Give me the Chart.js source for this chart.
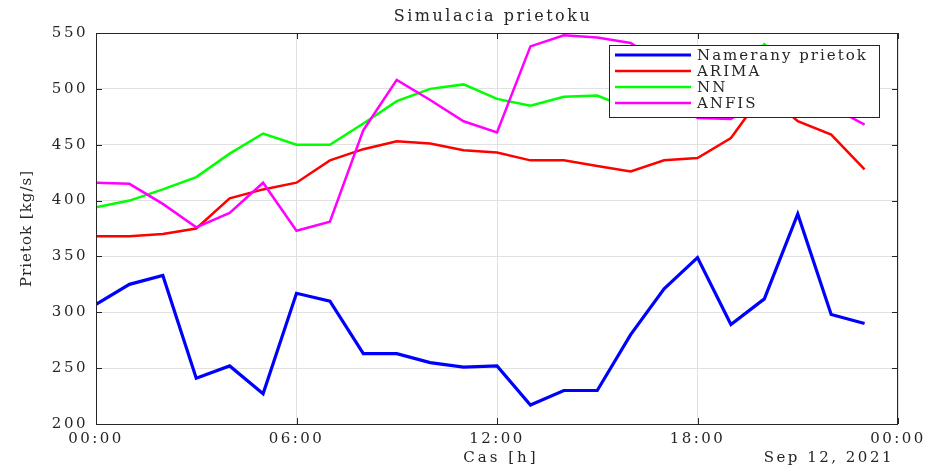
<!DOCTYPE html>
<html>
<head>
<meta charset="utf-8">
<script src="https://cdn.jsdelivr.net/npm/chart.js@4.4.1/dist/chart.umd.min.js"></script>
<style>
  html, body { margin: 0; padding: 0; background: #fff; }
  #wrap { width: 928px; height: 468px; }
</style>
</head>
<body>
<div id="wrap"><canvas id="chartPrietok" width="928" height="468"></canvas></div>
<script>
// Hodiny dna (0..23) a simulovane prietoky [kg/s]
const hours = [0, 1, 2, 3, 4, 5, 6, 7, 8, 9, 10, 11, 12, 13, 14, 15, 16, 17, 18, 19, 20, 21, 22, 23];
const nameranyPrietok = [307, 325, 333, 241, 252, 227, 317, 310, 263, 263, 255, 251, 252, 217, 230, 230, 280, 321, 349, 289, 312, 388, 298, 290];
const arima = [368, 368, 370, 375, 402, 410, 416, 436, 446, 453, 451, 445, 443, 436, 436, 431, 426, 436, 438, 456, 497, 471, 459, 428];
const nn = [394, 400, 410, 421, 442, 460, 450, 450, 469, 489, 500, 504, 491, 485, 493, 494, 482, 488, 497, 508, 540, 512, 502, 492];
const anfis = [416, 415, 397, 376, 389, 416, 373, 381, 463, 508, 490, 471, 461, 538, 548, 546, 541, 522, 474, 473, 492, 500, 484, 468];

const seriesNames = ['Namerany prietok', 'ARIMA', 'NN', 'ANFIS'];
const seriesColors = ['#0000ff', '#ff0000', '#00ff00', '#ff00ff'];
const xTicks = [0, 6, 12, 18, 24];
const yTicks = [200, 250, 300, 350, 400, 450, 500, 550];

const SERIF = "'DejaVu Serif', 'Liberation Serif', serif";
Chart.defaults.font.family = SERIF;
Chart.defaults.color = '#262626';

function toPoints(values) {
  return hours.map((h, i) => ({ x: h, y: values[i] }));
}

const allSeries = [nameranyPrietok, arima, nn, anfis];
const datasets = allSeries.map((values, i) => ({
  label: seriesNames[i],
  data: toPoints(values),
  borderColor: seriesColors[i],
  backgroundColor: seriesColors[i],
  borderWidth: i === 0 ? 3.2 : 2.5,
  pointRadius: 0,
  tension: 0,
  order: 4 - i
}));

// wide lettering for the tick labels
const spacedText = {
  id: 'spacedText',
  beforeDraw(chart) { chart.ctx.letterSpacing = '2.5px'; },
  afterDraw(chart) { chart.ctx.letterSpacing = '0px'; }
};

// box round the plot, inward ticks, title, axis labels and legend
const matlabFrame = {
  id: 'matlabFrame',
  afterDatasetsDraw(chart) {
    const { ctx, chartArea: a, scales } = chart;
    ctx.save();
    ctx.letterSpacing = '0px';
    ctx.strokeStyle = '#262626';
    ctx.lineWidth = 1;
    ctx.strokeRect(a.left + 0.5, a.top + 0.5, a.right - a.left - 1, a.bottom - a.top);

    const tl = 6;
    ctx.beginPath();
    xTicks.forEach(v => {
      const px = Math.round(scales.x.getPixelForValue(v)) + 0.5;
      ctx.moveTo(px, a.bottom); ctx.lineTo(px, a.bottom - tl);
      ctx.moveTo(px, a.top); ctx.lineTo(px, a.top + tl);
    });
    yTicks.forEach(v => {
      const py = Math.round(scales.y.getPixelForValue(v)) + 0.5;
      ctx.moveTo(a.left, py); ctx.lineTo(a.left + tl, py);
      ctx.moveTo(a.right, py); ctx.lineTo(a.right - tl, py);
    });
    ctx.stroke();

    // legend box in the upper right corner
    const lw = 270, lh = 72;
    const lx = a.right - 19 - lw, ly = a.top + 12;
    ctx.fillStyle = '#fff';
    ctx.fillRect(lx, ly, lw, lh);
    ctx.strokeRect(lx + 0.5, ly + 0.5, lw, lh);
    ctx.font = '15px ' + SERIF;
    ctx.letterSpacing = '2px';
    ctx.textBaseline = 'middle';
    ctx.textAlign = 'left';
    seriesNames.forEach((name, i) => {
      const ry = ly + 10 + i * 16;
      ctx.strokeStyle = seriesColors[i];
      ctx.lineWidth = i === 0 ? 3.2 : 2.5;
      ctx.beginPath();
      ctx.moveTo(lx + 6, ry); ctx.lineTo(lx + 82, ry);
      ctx.stroke();
      ctx.fillStyle = '#262626';
      ctx.fillText(name, lx + 88, ry + 1);
    });

    // texts
    ctx.fillStyle = '#262626';
    ctx.textAlign = 'center';
    ctx.font = '16px ' + SERIF;
    ctx.letterSpacing = '2.5px';
    ctx.fillText('Simulacia prietoku', (a.left + a.right) / 2 - 4, 17);
    ctx.font = '15px ' + SERIF;
    ctx.letterSpacing = '3px';
    ctx.fillText('Cas [h]', (a.left + a.right) / 2 + 4, 458);
    ctx.textAlign = 'right';
    ctx.letterSpacing = '2.5px';
    ctx.fillText('Sep 12, 2021', a.right - 4, 458);
    ctx.translate(27, (a.top + a.bottom) / 2);
    ctx.rotate(-Math.PI / 2);
    ctx.textAlign = 'center';
    ctx.letterSpacing = '1px';
    ctx.fillText('Prietok [kg/s]', 0, 0);
    ctx.restore();
  }
};

new Chart(document.getElementById('chartPrietok'), {
  type: 'line',
  data: { datasets },
  options: {
    responsive: false,
    animation: false,
    layout: { padding: { top: 33, right: 30, left: 0, bottom: 0 } },
    plugins: {
      legend: { display: false },
      tooltip: { enabled: false },
      title: { display: false }
    },
    scales: {
      x: {
        type: 'linear',
        min: 0,
        max: 24,
        afterBuildTicks: scale => { scale.ticks = xTicks.map(v => ({ value: v })); },
        afterFit: scale => { scale.height = 44; },
        grid: { color: '#e1e1e1', drawTicks: false },
        border: { display: false },
        ticks: {
          padding: 6,
          font: { size: 15 },
          color: '#262626',
          maxRotation: 0,
          autoSkip: false,
          callback: v => String(v % 24).padStart(2, '0') + ':00'
        }
      },
      y: {
        min: 200,
        max: 550,
        afterBuildTicks: scale => { scale.ticks = yTicks.map(v => ({ value: v })); },
        afterFit: scale => { scale.width = 96; },
        grid: { color: '#e1e1e1', drawTicks: false },
        border: { display: false },
        ticks: { padding: 8, font: { size: 15 }, color: '#262626' }
      }
    }
  },
  plugins: [spacedText, matlabFrame]
});
</script>
</body>
</html>
